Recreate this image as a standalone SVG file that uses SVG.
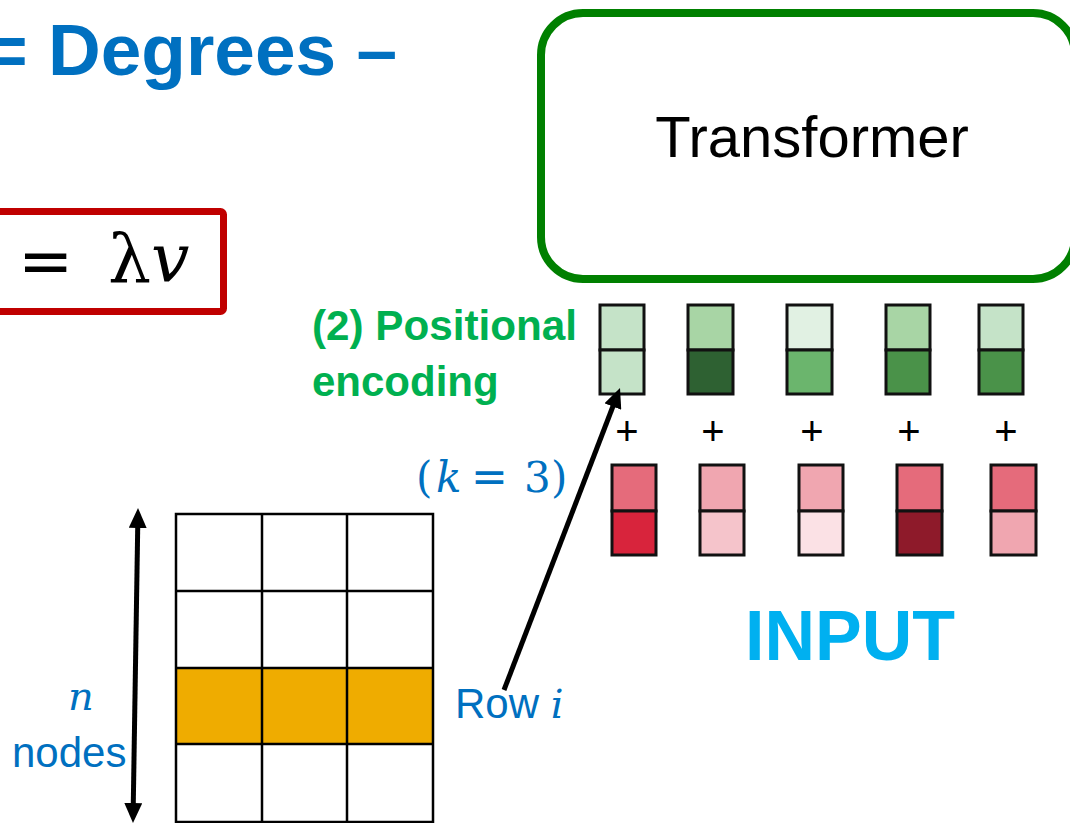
<svg xmlns="http://www.w3.org/2000/svg" width="1070" height="823" viewBox="0 0 1070 823">
<style>
.blue{fill:#0070C0}
.sans{font-family:"Liberation Sans",Arial,sans-serif}
.math{font-family:"DejaVu Serif","Liberation Serif",serif}
.cell{stroke:#111;stroke-width:3}
.grid{fill:none;stroke:#000;stroke-width:2.5}
.plus{font-family:"Liberation Sans",Arial,sans-serif;font-size:40px;fill:#000;text-anchor:middle}
</style>
<defs>
<marker id="ah" markerUnits="userSpaceOnUse" markerWidth="20" markerHeight="18" viewBox="0 0 20 18" refX="6" refY="9" orient="auto-start-reverse">
<path d="M0,0 L20,9 L0,18 z" fill="#000"/>
</marker>
</defs>
<rect width="1070" height="823" fill="#fff"/>

<g id="title">
<text x="397" y="75" text-anchor="end" class="sans blue" font-weight="bold" font-size="73">= Degrees –</text>
</g>

<g id="equation">
<rect x="-20" y="211.5" width="243.5" height="100" rx="3" fill="none" stroke="#C00000" stroke-width="7"/>
<text x="18" y="283" font-family="DejaVu Sans,sans-serif" font-size="66" fill="#000">=</text>
<text x="108" y="282" class="math" font-size="68" fill="#000">λ<tspan font-style="italic">v</tspan></text>
</g>

<g id="transformer">
<rect x="541" y="13" width="534" height="266" rx="42" fill="none" stroke="#008000" stroke-width="8"/>
<text x="812" y="157" text-anchor="middle" class="sans" font-size="58" fill="#000">Transformer</text>
</g>

<g id="positional-label">
<text class="sans" font-weight="bold" font-size="42" fill="#00B050"><tspan x="312" y="340" textLength="265" lengthAdjust="spacingAndGlyphs">(2) Positional</tspan><tspan x="312" y="396">encoding</tspan></text>
</g>

<g id="positional-encoding">
<rect class="cell" x="600" y="305" width="44" height="45" fill="#C5E3C8"/>
<rect class="cell" x="600" y="350" width="44" height="44" fill="#C5E3C8"/>
<rect class="cell" x="688" y="305" width="45" height="45" fill="#A8D5A5"/>
<rect class="cell" x="688" y="350" width="45" height="44" fill="#2E6132"/>
<rect class="cell" x="787" y="305" width="45" height="45" fill="#E1F1E3"/>
<rect class="cell" x="787" y="350" width="45" height="44" fill="#6BB56D"/>
<rect class="cell" x="886" y="305" width="44" height="45" fill="#A8D5A5"/>
<rect class="cell" x="886" y="350" width="44" height="44" fill="#4A9249"/>
<rect class="cell" x="979" y="305" width="44" height="45" fill="#C5E3C8"/>
<rect class="cell" x="979" y="350" width="44" height="44" fill="#4A9249"/>
</g>

<g id="plus-signs">
<text class="plus" x="627" y="445">+</text>
<text class="plus" x="713" y="445">+</text>
<text class="plus" x="812" y="445">+</text>
<text class="plus" x="909" y="445">+</text>
<text class="plus" x="1006" y="445">+</text>
</g>

<g id="input-embeddings">
<rect class="cell" x="612" y="465" width="44" height="46" fill="#E56B7B"/>
<rect class="cell" x="612" y="511" width="44" height="44" fill="#D8243C"/>
<rect class="cell" x="700" y="465" width="44" height="46" fill="#F0A6B0"/>
<rect class="cell" x="700" y="511" width="44" height="44" fill="#F5C4CB"/>
<rect class="cell" x="799" y="465" width="44" height="46" fill="#F0A6B0"/>
<rect class="cell" x="799" y="511" width="44" height="44" fill="#FBE1E5"/>
<rect class="cell" x="897" y="465" width="45" height="46" fill="#E56B7B"/>
<rect class="cell" x="897" y="511" width="45" height="44" fill="#8E1A2A"/>
<rect class="cell" x="991" y="465" width="45" height="46" fill="#E56B7B"/>
<rect class="cell" x="991" y="511" width="45" height="44" fill="#F0A6B0"/>
</g>

<g id="input-label">
<text x="850" y="660" text-anchor="middle" class="sans" font-weight="bold" font-size="70" fill="#00B0F0">INPUT</text>
</g>

<g id="k-label">
<text class="math blue" font-size="42" y="492"><tspan x="416">(</tspan><tspan x="436" font-style="italic">k</tspan></text>
<text x="471" y="492" font-family="DejaVu Sans,sans-serif" font-size="44" class="blue">=</text>
<text class="math blue" font-size="42" y="492"><tspan x="524">3</tspan><tspan x="551">)</tspan></text>
</g>

<g id="matrix">
<rect x="176" y="668" width="257" height="76" fill="#EFAC00"/>
<path class="grid" d="M176,514 H433 V822 H176 Z M262,514 V822 M347,514 V822 M176,591 H433 M176,668 H433 M176,744 H433"/>
</g>

<g id="n-label">
<text x="68" y="710" class="math blue" font-style="italic" font-size="40">n</text>
<text x="12" y="767" class="sans blue" font-size="42">nodes</text>
</g>

<g id="row-label">
<text x="455" y="718" class="sans blue" font-size="42">Row <tspan class="math" font-style="italic" font-size="40">i</tspan></text>
</g>

<g id="connectors">
<line x1="504" y1="690" x2="615" y2="401" stroke="#000" stroke-width="5" marker-end="url(#ah)"/>
<line x1="137.8" y1="522" x2="133.2" y2="809" stroke="#000" stroke-width="5" marker-start="url(#ah)" marker-end="url(#ah)"/>
</g>
</svg>
